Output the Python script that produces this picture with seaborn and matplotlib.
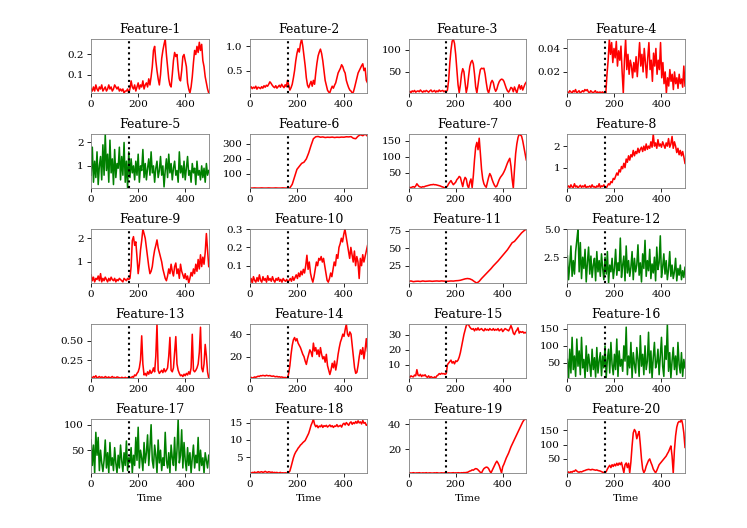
import numpy as np
import pandas as pd
import matplotlib
matplotlib.use("Agg")
import matplotlib.pyplot as plt
import seaborn as sns

feature_1 = [0.03, 0.02, 0.04, 0.02, 0.05, 0.03, 0.02, 0.04, 0.03, 0.05, 0.02, 0.03, 0.04, 0.02, 0.03, 0.05,
             0.03, 0.04, 0.02, 0.03, 0.05, 0.04, 0.03, 0.04, 0.02, 0.03, 0.02, 0.03, 0.01, 0.02, 0.02, 0.03,
             0.01, 0.03, 0.07, 0.04, 0.03, 0.05, 0.02, 0.04, 0.06, 0.03, 0.05, 0.04, 0.07, 0.03, 0.05, 0.06,
             0.04, 0.08, 0.05, 0.09, 0.14, 0.22, 0.24, 0.17, 0.12, 0.08, 0.05, 0.10, 0.18, 0.22, 0.25, 0.276,
             0.2, 0.14, 0.08, 0.05, 0.04, 0.10, 0.17, 0.21, 0.19, 0.2, 0.13, 0.08, 0.07, 0.12, 0.19, 0.20,
             0.17, 0.14, 0.06, 0.03, 0.01, 0.04, 0.09, 0.16, 0.22, 0.20, 0.24, 0.21, 0.26, 0.22, 0.25, 0.17,
             0.14, 0.09, 0.06, 0.03, 0.01]
feature_2 = [0.15, 0.17, 0.13, 0.16, 0.14, 0.18, 0.12, 0.16, 0.15, 0.13, 0.17, 0.14, 0.19, 0.16, 0.2, 0.18,
             0.22, 0.27, 0.24, 0.2, 0.17, 0.15, 0.19, 0.14, 0.17, 0.2, 0.16, 0.22, 0.18, 0.15, 0.21, 0.17,
             0.3, 0.2, 0.1, 0.15, 0.22, 0.35, 0.5, 0.7, 0.85, 0.95, 0.88, 1.05, 1.146, 1.0, 0.8, 0.6,
             0.35, 0.2, 0.15, 0.22, 0.28, 0.18, 0.3, 0.22, 0.45, 0.65, 0.8, 0.88, 0.94, 0.85, 0.7, 0.5,
             0.3, 0.2, 0.1, 0.06, 0.05, 0.12, 0.18, 0.14, 0.2, 0.25, 0.35, 0.45, 0.5, 0.55, 0.62, 0.58,
             0.5, 0.45, 0.3, 0.22, 0.15, 0.1, 0.08, 0.04, 0.06, 0.15, 0.25, 0.35, 0.45, 0.5, 0.55, 0.6,
             0.64, 0.5, 0.55, 0.3, 0.25]
feature_3 = [3, 5, 2, 6, 4, 7, 3, 5, 6, 4, 8, 5, 3, 6, 4, 7, 5, 3, 6, 8, 4, 5, 7, 3, 6, 4, 8, 5, 6, 7, 4, 6,
             4, 8, 30, 70, 100, 120, 125, 115, 90, 55, 20, 2, 20, 45, 57, 50, 25, 2, 15, 40, 62, 72, 76, 68,
             45, 15, 1, 20, 40, 55, 58, 57, 58, 45, 25, 8, 1, 12, 25, 30, 25, 12, 5, 10, 20, 27, 31, 33,
             32, 28, 20, 12, 6, 3, 8, 14, 12, 4, 15, 8, 1, 12, 20, 10, 18, 8, 15, 22, 26]
feature_4 = [0.003, 0.002, 0.004, 0.003, 0.002, 0.004, 0.003, 0.005, 0.002, 0.003, 0.004, 0.002, 0.003, 0.004,
             0.003, 0.005, 0.004, 0.005, 0.003, 0.002, 0.004, 0.003, 0.002, 0.003, 0.004, 0.002, 0.003, 0.002,
             0.003, 0.002, 0.003, 0.002, 0.003, 0.002, 0.018, 0.03, 0.048, 0.035, 0.045, 0.028, 0.04, 0.032,
             0.046, 0.025, 0.038, 0.03, 0.042, 0.02, 0.002, 0.03, 0.048, 0.022, 0.035, 0.018, 0.03, 0.025,
             0.015, 0.028, 0.02, 0.033, 0.016, 0.03, 0.045, 0.025, 0.035, 0.02, 0.04, 0.028, 0.015, 0.032,
             0.045, 0.022, 0.03, 0.012, 0.036, 0.025, 0.04, 0.018, 0.03, 0.022, 0.045, 0.015, 0.028, 0.01,
             0.02, 0.002, 0.015, 0.008, 0.022, 0.012, 0.018, 0.005, 0.02, 0.01, 0.015, 0.006, 0.018, 0.01,
             0.014, 0.007, 0.025, 0.008]
feature_5 = [0.6, 1.8, 0.3, 1.2, 0.5, 1.6, 0.2, 1.0, 1.4, 0.4, 1.9, 0.6, 2.36, 0.8, 1.5, 0.3, 2.1, 0.7, 1.3,
             0.2, 1.7, 0.5, 1.1, 0.9, 1.8, 0.4, 1.4, 0.6, 2.0, 0.3, 1.2, 0.05, 1.6, 0.5, 1.3, 0.7, 1.0, 0.4,
             1.2, 0.6, 1.5, 0.3, 1.0, 0.8, 1.7, 0.5, 1.1, 0.4, 0.9, 1.3, 0.6, 1.6, 0.7, 1.0, 0.3, 0.9, 1.2,
             0.5, 0.8, 1.4, 0.6, 1.0, 0.1, 0.8, 1.3, 0.5, 1.5, 0.7, 1.1, 0.4, 0.9, 1.2, 0.6, 0.8, 0.3, 1.6,
             0.7, 1.0, 0.5, 1.2, 0.4, 0.9, 1.4, 0.6, 0.8, 0.3, 1.1, 0.7, 0.9, 0.2, 1.2, 0.6, 0.8, 0.4, 1.0,
             0.5, 0.9, 0.3, 1.1, 0.6, 0.8]
feature_6 = [5, 5, 6, 5, 5, 6, 5, 5, 6, 5, 5, 6, 5, 5, 6, 5, 5, 6, 30, 80, 130, 150, 170, 178, 200, 240,
             290, 335, 348, 350, 345, 347, 343, 345, 344, 346, 343, 345, 344, 346, 345, 348, 347, 349, 338,
             335, 352, 362, 355, 366, 352]
feature_7 = [3, 4, 2, 5, 6, 4, 8, 15, 10, 6, 5, 4, 6, 5, 7, 8, 9, 10, 11, 12, 12, 13, 12, 12, 11, 10, 9, 8,
             6, 5, 3, 2, 4, 8, 15, 20, 25, 18, 12, 16, 20, 28, 32, 38, 35, 20, 6, 25, 35, 30, 10, 1.5, 20, 30,
             3, 40, 90, 130, 145, 122, 158, 110, 60, 30, 15, 8, 4, 20, 35, 47, 40, 28, 18, 10, 5, 8, 18, 28,
             35, 40, 45, 52, 60, 70, 80, 88, 95, 70, 30, 1.5, 60, 110, 140, 160, 171, 168, 165, 150, 130, 110, 90]
feature_8 = [0.1, 0.15, 0.05, 0.2, 0.1, 0.08, 0.25, 0.1, 0.15, 0.05, 0.12, 0.18, 0.08, 0.15, 0.1, 0.2, 0.05,
             0.12, 0.1, 0.15, 0.08, 0.2, 0.1, 0.12, 0.05, 0.15, 0.1, 0.25, 0.08, 0.15, 0.12, 0.2, 0.1, 0.05,
             0.15, 0.25, 0.2, 0.35, 0.3, 0.5, 0.45, 0.6, 0.75, 0.65, 0.9, 0.8, 1.05, 0.95, 1.2, 1.0, 1.4,
             1.25, 1.55, 1.35, 1.6, 1.5, 1.8, 1.55, 1.75, 1.65, 1.9, 1.7, 1.85, 1.95, 1.75, 2.0, 1.8, 2.1,
             1.85, 2.0, 1.9, 2.2, 1.95, 2.56, 2.0, 2.15, 1.9, 2.3, 2.0, 2.1, 1.95, 2.2, 2.05, 1.9, 2.15, 2.0,
             2.35, 1.95, 2.1, 2.45, 1.9, 2.2, 2.0, 1.7, 1.9, 1.6, 1.8, 1.55, 1.75, 1.5, 1.2]
feature_9 = [0.45, 0.2, 0.35, 0.15, 0.3, 0.25, 0.4, 0.2, 0.5, 0.15, 0.3, 0.2, 0.35, 0.25, 0.15, 0.3, 0.2,
             0.35, 0.25, 0.2, 0.3, 0.15, 0.25, 0.2, 0.3, 0.25, 0.2, 0.15, 0.3, 0.25, 0.2, 0.3, 0.25, 0.3,
             0.8, 1.9, 2.07, 1.7, 1.85, 1.2, 0.5, 0.9, 1.5, 1.9, 2.39, 2.2, 2.0, 1.6, 1.2, 0.8, 0.5, 0.6,
             0.8, 1.2, 1.5, 1.7, 1.93, 1.6, 1.4, 1.2, 1.0, 0.7, 0.5, 0.3, 0.2, 0.4, 0.7, 0.5, 0.9, 0.6, 0.4,
             0.8, 0.95, 0.5, 0.7, 0.3, 0.9, 0.6, 0.45, 0.3, 0.5, 0.25, 0.4, 0.1, 0.3, 0.55, 0.4, 0.7, 0.5,
             0.9, 0.6, 1.1, 0.7, 1.3, 0.8, 1.2, 0.9, 1.4, 2.2, 1.5, 0.8]
feature_10 = [0.01, 0.03, 0.005, 0.04, 0.02, 0.01, 0.035, 0.015, 0.05, 0.02, 0.01, 0.04, 0.02, 0.03, 0.01,
              0.045, 0.02, 0.03, 0.015, 0.04, 0.02, 0.01, 0.03, 0.02, 0.035, 0.015, 0.025, 0.01, 0.03, 0.02,
              0.015, 0.025, 0.01, 0.02, 0.03, 0.015, 0.04, 0.02, 0.035, 0.05, 0.03, 0.06, 0.04, 0.07, 0.05,
              0.08, 0.06, 0.1, 0.157, 0.08, 0.12, 0.06, 0.03, 0.01, 0.04, 0.08, 0.12, 0.1, 0.14, 0.13, 0.15,
              0.12, 0.14, 0.1, 0.06, 0.02, 0.01, 0.03, 0.06, 0.04, 0.08, 0.12, 0.1, 0.16, 0.14, 0.2, 0.22,
              0.25, 0.23, 0.27, 0.3, 0.26, 0.22, 0.18, 0.14, 0.2, 0.16, 0.12, 0.18, 0.1, 0.15, 0.12, 0.03,
              0.14, 0.1, 0.16, 0.12, 0.15, 0.18, 0.21]
feature_11 = [3, 3.5, 2.5, 3, 3.2, 2.8, 3.5, 3, 3.2, 3.4, 3, 3.3, 3.5, 3.2, 3.6, 3.3, 3, 3.2, 3.5, 3.3, 3.8,
              4, 4.5, 5.5, 6.5, 7, 6.5, 5, 2.5, 0.5, 3, 7, 10.5, 14, 17.5, 21, 25, 28.5, 32, 36, 40, 44, 48,
              53, 58, 60, 64, 68, 72, 75, 77.5]
feature_12 = [2.6, 0.5, 1.8, 3.5, 0.8, 2.2, 1.0, 3.0, 4.0, 5.0, 1.2, 3.8, 0.6, 2.5, 1.5, 3.2, 0.3, 2.0, 3.4,
              1.0, 2.6, 0.7, 1.8, 2.4, 0.4, 3.0, 1.2, 2.2, 0.8, 2.8, 1.5, 0.5, 2.5, 1.0, 3.0, 0.2, 1.8, 1.2,
              2.4, 0.6, 1.5, 3.2, 0.9, 2.0, 1.3, 4.2, 0.7, 1.8, 2.6, 0.4, 3.5, 1.1, 2.2, 0.8, 1.6, 3.0, 0.5,
              2.4, 1.2, 1.8, 3.6, 0.9, 2.0, 0.3, 2.8, 1.5, 4.0, 0.8, 2.2, 1.3, 3.2, 0.6, 1.9, 1.1, 2.5, 0.4,
              3.4, 1.4, 2.0, 4.4, 0.7, 1.6, 2.8, 1.0, 2.2, 0.5, 1.4, 3.0, 0.8, 1.8, 0.6, 1.2, 2.4, 0.4, 1.5,
              0.9, 1.8, 0.5, 1.3, 0.7, 1.6]
feature_13 = [0.03, 0.02, 0.04, 0.03, 0.05, 0.02, 0.03, 0.04, 0.025, 0.035, 0.03, 0.02, 0.04, 0.03, 0.025,
              0.035, 0.02, 0.03, 0.04, 0.025, 0.03, 0.02, 0.035, 0.03, 0.025, 0.02, 0.03, 0.025, 0.02, 0.03,
              0.02, 0.025, 0.02, 0.03, 0.02, 0.04, 0.03, 0.06, 0.05, 0.08, 0.1, 0.15, 0.25, 0.56, 0.2, 0.06,
              0.08, 0.05, 0.1, 0.07, 0.12, 0.08, 0.1, 0.15, 0.1, 0.3, 0.71, 0.12, 0.08, 0.1, 0.12, 0.09, 0.14,
              0.1, 0.12, 0.15, 0.3, 0.54, 0.12, 0.1, 0.15, 0.35, 0.55, 0.2, 0.12, 0.08, 0.05, 0.06, 0.04, 0.07,
              0.05, 0.08, 0.06, 0.1, 0.07, 0.15, 0.58, 0.12, 0.1, 0.12, 0.15, 0.2, 0.35, 0.67, 0.15, 0.1, 0.2,
              0.45, 0.3, 0.1, 0.02]
feature_14 = [1, 1.5, 0.8, 1.2, 1.8, 1.5, 2, 2.5, 2.2, 3, 2.8, 3.2, 3, 2.7, 3.3, 3, 2.8, 3.1, 2.6, 2.4, 2.7,
              2.2, 2, 2.3, 1.8, 2, 1.6, 1.8, 1.5, 1.2, 1.4, 1.0, 0.8, 5, 12, 22, 30, 35, 37, 34, 36, 32, 30,
              28, 25, 22, 20, 16, 13, 18, 22, 26, 24, 20, 32, 25, 28, 22, 26, 20, 28, 22, 18, 20, 15, 22, 12,
              8, 4, 8, 14, 10, 16, 8, 14, 22, 28, 33, 36, 40, 38, 44, 49, 40, 38, 42, 40, 30, 20, 10, 5, 6,
              12, 20, 26, 22, 28, 18, 26, 36, 25]
feature_15 = [2, 1.5, 2.5, 2, 1.8, 3, 2.5, 6.6, 3, 2.5, 3.5, 2, 3, 2.5, 3.2, 2, 1.5, 2.5, 1.2, 2, 1.5, 1, 1.8,
              1.2, 2.5, 3, 4, 3.5, 4.2, 3.8, 4, 3.5, 4, 10, 11, 12, 13, 11, 12, 10.5, 12.5, 12, 13, 15, 18,
              22, 26, 30, 33, 36, 37, 36.5, 35, 34, 33.5, 34, 32.5, 34, 33, 34.5, 33, 33.5, 34, 33, 32.5, 34,
              33, 33.5, 32.8, 34, 33.2, 33, 34, 32.8, 33.5, 33, 34, 32.5, 33.2, 33.8, 32, 33, 34, 33.5, 33,
              32.5, 34, 36, 34, 31, 30, 32, 33, 34.5, 31, 32, 31.5, 32, 31, 31.5, 31]
feature_16 = [60, 5, 90, 20, 125, 30, 70, 10, 120, 40, 85, 15, 125, 35, 60, 5, 100, 25, 75, 45, 10, 90, 30,
              65, 8, 95, 20, 55, 80, 12, 70, 35, 100, 5, 60, 90, 20, 110, 45, 15, 75, 30, 120, 10, 85, 40,
              60, 25, 100, 55, 155, 15, 70, 35, 110, 5, 80, 45, 20, 95, 60, 10, 130, 40, 75, 15, 100, 30, 55,
              140, 20, 85, 5, 65, 110, 35, 50, 90, 15, 70, 125, 40, 10, 100, 60, 164, 25, 80, 5, 55, 95, 30,
              70, 15, 110, 45, 20, 80, 10, 60, 35]
feature_17 = [70, 20, 60, 5, 85, 40, 75, 10, 50, 25, 8, 30, 70, 15, 45, 5, 65, 20, 35, 10, 55, 25, 5, 40, 15,
              60, 30, 8, 45, 20, 68, 10, 35, 25, 55, 5, 40, 20, 75, 30, 95, 15, 50, 35, 10, 65, 25, 45, 80,
              20, 55, 100, 30, 15, 60, 40, 5, 70, 25, 50, 10, 35, 20, 85, 30, 15, 45, 5, 60, 35, 20, 75, 10,
              50, 111, 25, 40, 90, 15, 65, 30, 10, 55, 20, 45, 5, 35, 60, 15, 40, 25, 75, 10, 50, 20, 35, 5,
              45, 30, 15, 40]
feature_18 = [0.5, 0.4, 0.6, 0.5, 0.7, 0.5, 0.6, 0.8, 0.6, 0.7, 0.8, 0.6, 0.7, 0.9, 0.7, 0.6, 0.8, 0.7, 0.6,
              0.7, 0.5, 0.6, 0.5, 0.6, 0.4, 0.5, 0.6, 0.4, 0.5, 0.4, 0.5, 0.4, 0.5, 0.6, 1, 2.2, 3.5, 4.8,
              5.8, 6.5, 7, 7.6, 8, 8.5, 8.8, 9.2, 9.5, 9.8, 10.5, 11.2, 11.9, 13, 14.2, 15, 16, 14.5, 13.8,
              14.2, 13.5, 14, 13.8, 14.3, 13.6, 14.1, 13.9, 14.2, 13.7, 14, 14.3, 13.8, 14.1, 13.6, 14, 13.9,
              14.4, 13.8, 14, 14.2, 13.7, 14.5, 14.8, 14.3, 15, 14.6, 14.2, 14.9, 15.2, 14.5, 15, 14.7, 15.3,
              14.8, 15.5, 14.9, 15.2, 14.6, 15.6, 14.8, 15, 14.2, 14.5]
feature_19 = [1, 1.1, 0.9, 1, 1.2, 1, 0.9, 1.1, 1, 1.2, 1, 0.9, 1.1, 1, 1, 1.2, 0.9, 1, 1.1, 1, 0.9, 1, 1.1, 1,
              1.2, 1, 0.9, 1, 1.1, 1, 1, 1.2, 1, 0.9, 1.1, 1, 1, 1.1, 1.2, 1, 1.1, 1, 1.2, 1.1, 1, 1.2, 1.1,
              1.3, 1.2, 1.4, 1.5, 2, 2.5, 2.8, 3.5, 3.2, 4, 4.5, 4.3, 3.5, 2.5, 1.5, 1, 3, 4.5, 5.2, 5.7, 5.5,
              4.5, 2.5, 1, 3, 5, 7, 9, 10.5, 9, 7, 4, 1, 6, 8, 10.5, 13, 15, 17, 19.5, 22, 24, 26, 28, 30, 32,
              34, 36, 38, 40, 42, 43.5, 44.3, 44]
feature_20 = [3, 5, 2, 6, 4, 8, 7, 12, 8, 5, 4, 6, 5, 7, 9, 10, 12, 13, 14, 13, 12, 14, 13, 12, 11, 12, 10, 9,
              8, 6, 4, 3, 3, 6, 15, 22, 28, 20, 30, 24, 32, 26, 35, 28, 36, 30, 38, 20, 2, 30, 36, 20, 35, 2,
              40, 95, 140, 152, 145, 120, 135, 145, 100, 50, 15, 2, 10, 25, 35, 45, 50, 38, 28, 15, 8, 2, 10,
              20, 30, 35, 40, 45, 50, 55, 60, 68, 75, 85, 95, 60, 1, 80, 130, 160, 175, 180, 178, 188, 170,
              140, 90]

series = [feature_1, feature_2, feature_3, feature_4, feature_5, feature_6, feature_7, feature_8,
          feature_9, feature_10, feature_11, feature_12, feature_13, feature_14, feature_15, feature_16,
          feature_17, feature_18, feature_19, feature_20]
titles = ["Feature-%d" % (i + 1) for i in range(20)]
green_features = [5, 12, 16, 17]
change_point = 160

plt.rcParams["font.family"] = "DejaVu Serif"
plt.rcParams["axes.edgecolor"] = "grey"

fig, axes = plt.subplots(5, 4, figsize=(9.96, 7.04), dpi=75)
fig.subplots_adjust(left=0.122, right=0.917, top=0.926, bottom=0.104, wspace=0.35, hspace=0.76)

for i, ax in enumerate(axes.flat):
    vals = series[i]
    df = pd.DataFrame({"Time": np.linspace(0, 500, len(vals)), "value": vals})
    color = "green" if (i + 1) in green_features else "red"
    sns.lineplot(data=df, x="Time", y="value", ax=ax, color=color, linewidth=1.5)
    ax.axvline(change_point, color="black", linestyle=":", linewidth=2)
    ax.set_xlim(0, 500)
    ax.margins(x=0, y=0)
    ax.set_title(titles[i], fontsize=12)
    ax.set_ylabel("")
    if i >= 16:
        ax.set_xlabel("Time")
    else:
        ax.set_xlabel("")

fig.savefig("out.png", dpi=75)
